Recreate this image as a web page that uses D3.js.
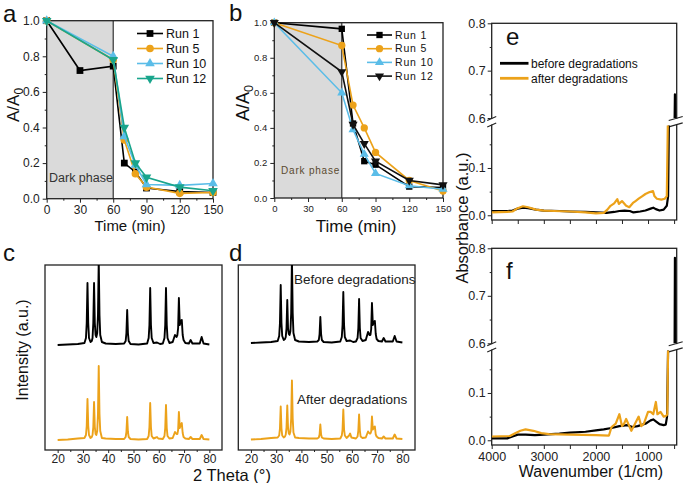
<!DOCTYPE html>
<html>
<head>
<meta charset="utf-8">
<script src="https://cdn.jsdelivr.net/npm/d3@7"></script>
<style>
  body { margin: 0; background: #fff; }
  svg { font-family: "Liberation Sans", Arial, sans-serif; }
</style>
</head>
<body>
<script>
// ---------- data: photocatalytic runs (A/A0 vs time) ----------
const timeA1 = [0, 30, 60, 70, 80, 90, 120, 150];
const timeRun = [0, 60, 70, 80, 90, 120, 150];
const aRun1 = [1.0, 0.72, 0.745, 0.20, 0.15, 0.06, 0.04, 0.035];
const aRun5 = [1.0, 0.78, 0.33, 0.14, 0.065, 0.03, 0.035];
const aRun10 = [1.0, 0.80, 0.35, 0.19, 0.08, 0.075, 0.085];
const aRun12 = [1.0, 0.78, 0.40, 0.20, 0.12, 0.065, 0.045];
const bRun1 = [1.0, 0.965, 0.425, 0.21, 0.19, 0.065, 0.06];
const bRun5 = [1.0, 0.87, 0.53, 0.40, 0.26, 0.10, 0.04];
const bRun10 = [1.0, 0.60, 0.39, 0.25, 0.14, 0.07, 0.05];
const bRun12 = [1.0, 0.72, 0.42, 0.31, 0.21, 0.10, 0.075];
const runNames = ["Run 1", "Run 5", "Run 10", "Run 12"];
const timeTicks = [0, 30, 60, 90, 120, 150];
const timeMinor = [15, 45, 75, 105, 135];
const ratioTicks = [0, 0.2, 0.4, 0.6, 0.8, 1.0];
const ratioMinor = [0.1, 0.3, 0.5, 0.7, 0.9];

// ---------- data: XRD patterns [2theta, intensity] ----------
const xrdBeforeC = [[20,0],[24,0.5],[28,1],[30.6,2],[31.2,7],[31.5,22],[31.8,62],[32.1,22],[32.4,7],[33.0,3],[33.5,4],[33.8,7],[34.1,22],[34.4,62],[34.7,22],[35.0,10],[35.3,8],[35.65,12],[35.95,30],[36.25,85],[36.55,30],[36.85,10],[37.5,3],[39,1.5],[43,1],[46.3,1.5],[46.9,4],[47.2,12],[47.5,35],[47.8,12],[48.1,4],[48.8,1],[52,0.5],[55.4,1.5],[56.0,7],[56.3,20],[56.6,57],[56.9,20],[57.2,7],[57.9,2],[59.3,2.5],[60.5,1],[61.6,1.5],[62.25,7],[62.55,20],[62.85,57],[63.15,20],[63.45,7],[64.2,2],[65.5,3],[66.4,10],[67.0,8],[67.35,10],[67.65,17],[67.95,47],[68.3,20],[68.7,24],[69.1,25],[69.45,10],[69.8,5],[70.5,2],[71.9,1.5],[72.6,5],[73.3,1.5],[76.2,1.5],[76.95,8],[77.7,1.5],[80,0.5]];
const xrdAfterC = [[20,0],[24,0.5],[28,1.5],[30.6,2],[31.2,5],[31.5,14],[31.8,41],[32.1,14],[32.4,5],[33.0,2],[33.5,3],[33.8,5],[34.1,13],[34.4,38],[34.7,13],[35.0,6],[35.3,5],[35.65,9],[35.95,26],[36.25,74],[36.55,26],[36.85,9],[37.5,2],[39,1.5],[43,1],[46.3,1],[46.9,3],[47.2,8],[47.5,23],[47.8,8],[48.1,3],[48.8,1],[52,0.5],[55.4,1],[56.0,4],[56.3,13],[56.6,37],[56.9,13],[57.2,4],[57.9,1.5],[58.9,2.5],[59.3,3],[59.8,1.5],[61.6,1],[62.25,4],[62.55,12],[62.85,35],[63.15,12],[63.45,4],[64.2,1.5],[65.5,2],[66.4,8],[67.0,6],[67.35,6],[67.65,10],[67.95,28],[68.3,12],[68.7,15],[69.1,17],[69.45,7],[69.8,3],[70.5,1.5],[71.9,1],[72.6,3],[73.3,1],[76.2,1],[76.95,5],[77.7,1],[80,0.5]];
const xrdBeforeD = [[20,0],[24,0.5],[28,1],[30.6,2],[31.2,7],[31.5,20],[31.8,58],[32.1,20],[32.4,7],[33.0,3],[33.5,4],[33.8,6],[34.1,15],[34.4,43],[34.7,15],[35.0,9],[35.3,8],[35.65,12],[35.95,30],[36.25,85],[36.55,30],[36.85,10],[37.5,3],[39,1.5],[43,1],[46.3,1.5],[46.9,3],[47.2,9],[47.5,26],[47.8,9],[48.1,3],[48.8,1],[52,0.5],[55.4,1.5],[56.0,6],[56.3,18],[56.6,51],[56.9,18],[57.2,6],[57.9,2],[59.3,2.5],[60.5,1],[61.6,1.5],[62.25,5],[62.55,15],[62.85,44],[63.15,15],[63.45,5],[64.2,2],[65.5,3],[66.4,11],[67.0,8],[67.35,8],[67.65,14],[67.95,40],[68.3,18],[68.7,21],[69.1,22],[69.45,9],[69.8,4],[70.5,2],[71.9,1.5],[72.6,5],[73.3,1.5],[76.2,1.5],[76.95,7],[77.7,1.5],[80,0.5]];
const xrdAfterD = [[20,0],[24,0.5],[28,1.5],[30.6,2],[31.2,4],[31.5,11],[31.8,33],[32.1,11],[32.4,4],[33.0,2],[33.5,3],[33.8,5],[34.1,12],[34.4,34],[34.7,12],[35.0,6],[35.3,5],[35.65,8],[35.95,21],[36.25,59],[36.55,21],[36.85,7],[37.5,2],[39,1.5],[43,1],[46.3,1],[46.9,2],[47.2,5],[47.5,15],[47.8,5],[48.1,2],[48.8,1],[52,0.5],[55.4,1],[56.0,4],[56.3,10],[56.6,30],[56.9,10],[57.2,4],[57.9,1.5],[58.9,4],[59.3,6],[59.8,2],[61.6,1],[62.25,3],[62.55,9],[62.85,25],[63.15,9],[63.45,3],[64.2,1.5],[65.5,2],[66.4,8],[67.0,6],[67.35,6],[67.65,8],[67.95,23],[68.3,10],[68.7,12],[69.1,13],[69.45,5],[69.8,3],[70.5,1.5],[71.9,1],[72.6,3],[73.3,1],[76.2,1],[76.95,5],[77.7,1],[80,0.5]];
const thetaTicks = [20, 30, 40, 50, 60, 70, 80];
const thetaMinor = [25, 35, 45, 55, 65, 75];

// ---------- data: FTIR spectra [wavenumber, absorbance] ----------
const irBeforeE = [[4000,0.009],[3700,0.009],[3600,0.01],[3500,0.014],[3400,0.016],[3300,0.015],[3150,0.012],[3000,0.01],[2700,0.009],[2500,0.008],[2200,0.007],[2000,0.006],[1800,0.005],[1650,0.007],[1550,0.009],[1450,0.01],[1350,0.009],[1280,0.006],[1150,0.008],[1050,0.01],[950,0.014],[900,0.016],[850,0.013],[780,0.01],[700,0.012],[640,0.02],[615,0.04],[600,0.3],[590,0.5],[490,0.5],[484,0.65],[478,0.5]];
const irAfterE = [[4000,0.006],[3700,0.007],[3600,0.008],[3500,0.015],[3400,0.019],[3300,0.017],[3150,0.012],[3000,0.01],[2800,0.009],[2500,0.008],[2200,0.006],[2000,0.004],[1850,0.005],[1780,0.012],[1720,0.02],[1650,0.025],[1590,0.034],[1560,0.024],[1500,0.03],[1420,0.02],[1360,0.017],[1290,0.026],[1240,0.03],[1180,0.035],[1115,0.04],[1050,0.045],[970,0.049],[905,0.051],[875,0.04],[830,0.035],[745,0.033],[680,0.035],[640,0.04],[620,0.3],[605,0.5],[450,0.5]];
const irBeforeF = [[4000,0.004],[3700,0.004],[3600,0.008],[3500,0.012],[3350,0.012],[3170,0.011],[3000,0.012],[2700,0.014],[2500,0.016],[2200,0.018],[2000,0.021],[1850,0.023],[1700,0.026],[1550,0.03],[1400,0.032],[1300,0.028],[1200,0.03],[1050,0.035],[950,0.042],[900,0.044],[850,0.04],[780,0.034],[700,0.032],[660,0.033],[635,0.05],[615,0.3],[595,0.5],[490,0.5],[484,0.78],[478,0.5]];
const irAfterF = [[4000,0.008],[3650,0.009],[3550,0.015],[3450,0.02],[3350,0.023],[3200,0.02],[3050,0.015],[2900,0.013],[2500,0.012],[2000,0.011],[1750,0.01],[1700,0.028],[1620,0.035],[1550,0.055],[1500,0.03],[1460,0.035],[1420,0.045],[1380,0.035],[1320,0.02],[1250,0.035],[1180,0.05],[1130,0.03],[1080,0.035],[1000,0.06],[950,0.06],[900,0.055],[850,0.081],[820,0.055],[760,0.06],[700,0.05],[650,0.052],[630,0.055],[615,0.3],[605,0.5],[450,0.5]];
const waveTicks = [4000, 3000, 2000, 1000];
const waveMinor = [3500, 2500, 1500, 500];
const absTicks = [0, 0.1, 0.6, 0.7, 0.8];
const absMinor = [0.05, 0.15, 0.65, 0.75];
const irNames = ["before degradations", "after degradations"];

const BLACK = "#000", ORANGE = "#eca21a", SKY = "#5bbde8", TEAL = "#19a58c";

const svg = d3.select("body").append("svg").attr("width", 685).attr("height", 483);

function styleAxis(sel, size) {
  sel.select(".domain").remove();
  sel.selectAll("line").attr("stroke", "#222").attr("stroke-width", 1);
  sel.selectAll("text").attr("font-size", size).attr("fill", "#222");
}

function addText(g, x, y, txt, size, opts) {
  opts = opts || {};
  return g.append("text").attr("x", x).attr("y", y).text(txt)
    .attr("font-size", size).attr("fill", opts.fill || "#111")
    .attr("text-anchor", opts.anchor || "start")
    .attr("letter-spacing", opts.spacing || 0);
}

function frame(g, x0, x1, y0, y1) {
  g.append("rect").attr("x", x0).attr("y", y0).attr("width", x1 - x0).attr("height", y1 - y0)
    .attr("fill", "none").attr("stroke", "#222").attr("stroke-width", 1.3);
}

// ---------- panels a, b ----------
function drawKinetics(p) {
  const g = svg.append("g");
  const x = d3.scaleLinear().domain([0, 150]).range(p.xr);
  const y = d3.scaleLinear().domain([0, 1]).range(p.yr);

  g.append("rect").attr("x", x(0)).attr("y", y(1)).attr("width", x(60) - x(0))
    .attr("height", y(0) - y(1)).attr("fill", "#dadada");
  g.append("line").attr("x1", x(60)).attr("x2", x(60)).attr("y1", y(0)).attr("y2", y(1))
    .attr("stroke", "#333").attr("stroke-width", 1.2);
  addText(g, p.dark[0], p.dark[1], "Dark phase", p.dark[2], { fill: p.dark[3], spacing: p.dark[4] });

  const xa = g.append("g").attr("transform", `translate(0,${y(0)})`)
    .call(d3.axisBottom(x).tickValues(timeTicks).tickSize(4).tickPadding(3));
  styleAxis(xa, p.tick);
  const xm = g.append("g").attr("transform", `translate(0,${y(0)})`)
    .call(d3.axisBottom(x).tickValues(timeMinor).tickSize(2).tickFormat(""));
  styleAxis(xm, p.tick);
  const ya = g.append("g").attr("transform", `translate(${x(0)},0)`)
    .call(d3.axisLeft(y).tickValues(ratioTicks).tickSize(4).tickPadding(3).tickFormat(d3.format(".1f")));
  styleAxis(ya, p.tick);
  const ym = g.append("g").attr("transform", `translate(${x(0)},0)`)
    .call(d3.axisLeft(y).tickValues(ratioMinor).tickSize(2).tickFormat(""));
  styleAxis(ym, p.tick);
  frame(g, p.xr[0], p.xr[1], p.yr[1], p.yr[0]);

  const line = d3.line().x(d => x(d[0])).y(d => y(d[1]));
  p.runs.forEach((r, i) => {
    const pts = r.t.map((t, k) => [t, r.v[k]]);
    g.append("path").datum(pts).attr("d", line).attr("fill", "none")
      .attr("stroke", r.color).attr("stroke-width", 1.6);
    g.selectAll(null).data(pts).join("path")
      .attr("transform", d => `translate(${x(d[0])},${y(d[1])}) rotate(${r.rot})`)
      .attr("d", d3.symbol(r.sym, r.size)).attr("fill", r.color);

    // legend
    const ly = p.leg.y0 + i * p.leg.dy;
    g.append("line").attr("x1", p.leg.x0).attr("x2", p.leg.x1).attr("y1", ly).attr("y2", ly)
      .attr("stroke", r.color).attr("stroke-width", 1.6);
    g.append("path").attr("transform", `translate(${(p.leg.x0 + p.leg.x1) / 2},${ly}) rotate(${r.rot})`)
      .attr("d", d3.symbol(r.sym, r.size)).attr("fill", r.color);
    addText(g, p.leg.x1 + 3, ly + p.leg.size * 0.36, runNames[i], p.leg.size, { spacing: p.leg.spacing });
  });

  addText(g, p.letter[0], p.letter[1], p.letter[2], 24);
  const yl = g.append("text").attr("transform", `translate(${p.ylab[0]},${p.ylab[1]}) rotate(-90)`)
    .attr("text-anchor", "middle").attr("font-size", p.ylab[2]).attr("fill", "#111");
  yl.append("tspan").text("A/A");
  yl.append("tspan").text("0").attr("font-size", p.ylab[2] * 0.7).attr("dy", 4);
  addText(g, p.xlab[0], p.xlab[1], "Time (min)", p.xlab[2], { anchor: "middle" });
}

drawKinetics({
  xr: [46.7, 213], yr: [198.7, 20.7], tick: 12,
  dark: [49, 182, 12.5, "#333", 0],
  runs: [
    { t: timeA1, v: aRun1, color: BLACK, sym: d3.symbolSquare, size: 46, rot: 0 },
    { t: timeRun, v: aRun5, color: ORANGE, sym: d3.symbolCircle, size: 46, rot: 0 },
    { t: timeRun, v: aRun10, color: SKY, sym: d3.symbolTriangle, size: 40, rot: 0 },
    { t: timeRun, v: aRun12, color: TEAL, sym: d3.symbolTriangle, size: 40, rot: 180 }
  ],
  leg: { x0: 137, x1: 163, y0: 33.5, dy: 15, size: 12.5, spacing: 0 },
  letter: [3, 22, "a"], ylab: [19, 105, 17], xlab: [130, 231, 15]
});

drawKinetics({
  xr: [274.3, 443], yr: [198, 22.7], tick: 9.5,
  dark: [281, 174, 10, "#5a4a30", 0.8],
  runs: [
    { t: timeRun, v: bRun1, color: BLACK, sym: d3.symbolSquare, size: 40, rot: 0 },
    { t: timeRun, v: bRun5, color: ORANGE, sym: d3.symbolCircle, size: 42, rot: 0 },
    { t: timeRun, v: bRun10, color: SKY, sym: d3.symbolTriangle, size: 36, rot: 0 },
    { t: timeRun, v: bRun12, color: "#111", sym: d3.symbolTriangle, size: 36, rot: 180 }
  ],
  leg: { x0: 367, x1: 392, y0: 35, dy: 13.7, size: 10.5, spacing: 0.8 },
  letter: [229, 21, "b"], ylab: [249, 103, 18], xlab: [356, 232, 17]
});

// ---------- panels c, d ----------
function drawXrd(p) {
  const g = svg.append("g");
  const x = d3.scaleLinear().domain([15, 85]).range(p.xr);
  const y = d3.scaleLinear().domain([0, 185]).range([450, 265]);
  const clipId = "clip" + p.letter[2];
  g.append("clipPath").attr("id", clipId).append("rect")
    .attr("x", p.xr[0]).attr("y", 265).attr("width", p.xr[1] - p.xr[0]).attr("height", 185);

  const xa = g.append("g").attr("transform", "translate(0,450)")
    .call(d3.axisBottom(x).tickValues(thetaTicks).tickSize(3).tickPadding(1.5));
  styleAxis(xa, 12);
  const xm = g.append("g").attr("transform", "translate(0,450)")
    .call(d3.axisBottom(x).tickValues(thetaMinor).tickSize(2).tickFormat(""));
  styleAxis(xm, 12);
  frame(g, p.xr[0], p.xr[1], 265, 450);

  p.series.forEach(s => {
    g.append("path").datum(s.data)
      .attr("d", d3.line().x(d => x(d[0])).y(d => y(d[1] + s.offset)))
      .attr("fill", "none").attr("stroke", s.color).attr("stroke-width", 1.9)
      .attr("stroke-linejoin", "round").attr("clip-path", `url(#${clipId})`);
  });
  addText(g, p.letter[0], p.letter[1], p.letter[2], 24);
}

drawXrd({
  xr: [45, 222], letter: [3, 261, "c"],
  series: [
    { data: xrdBeforeC, offset: 105, color: BLACK },
    { data: xrdAfterC, offset: 10, color: ORANGE }
  ]
});
drawXrd({
  xr: [238.3, 415], letter: [229, 261, "d"],
  series: [
    { data: xrdBeforeD, offset: 107, color: BLACK },
    { data: xrdAfterD, offset: 10.5, color: ORANGE }
  ]
});
addText(svg, 294, 284, "Before degradations", 13.5, { fill: "#222" });
addText(svg, 297, 404, "After degradations", 13.5, { fill: "#222" });
svg.append("text").attr("transform", "translate(28,350) rotate(-90)").attr("text-anchor", "middle")
  .attr("font-size", 16).attr("fill", "#111").text("Intensity (a.u.)");
addText(svg, 232, 480.5, "2 Theta (°)", 16.5, { anchor: "middle" });

// ---------- panels e, f ----------
function drawIr(p) {
  const g = svg.append("g");
  const x = d3.scaleLinear().domain([4000, 450]).range([491.7, 676.7]);
  const [yb, y01, y06, yt] = p.yr;
  const y = d3.scaleLinear().domain([-0.01, 0.19, 0.6, 0.8]).range([yb, y01, y06, yt]);
  const clipId = "clip" + p.letter[2];
  const cp = g.append("clipPath").attr("id", clipId);
  cp.append("rect").attr("x", 491.7).attr("y", yt).attr("width", 185).attr("height", y06 - yt);
  cp.append("rect").attr("x", 491.7).attr("y", y01).attr("width", 185).attr("height", yb - y01);

  const xa = g.append("g").attr("transform", `translate(0,${yb})`)
    .call(d3.axisBottom(x).tickValues(waveTicks).tickSize(4).tickPadding(3)
      .tickFormat(p.xLabels ? d3.format("d") : ""));
  styleAxis(xa, 12.5);
  const xm = g.append("g").attr("transform", `translate(0,${yb})`)
    .call(d3.axisBottom(x).tickValues(waveMinor).tickSize(4).tickFormat(""));
  styleAxis(xm, 12);
  const ya = g.append("g").attr("transform", "translate(491.7,0)")
    .call(d3.axisLeft(y).tickValues(absTicks).tickSize(4).tickPadding(2).tickFormat(d3.format(".1f")));
  styleAxis(ya, 12.5);
  const ym = g.append("g").attr("transform", "translate(491.7,0)")
    .call(d3.axisLeft(y).tickValues(absMinor).tickSize(2).tickFormat(""));
  styleAxis(ym, 12);
  frame(g, 491.7, 676.7, yt, yb);

  // axis break marks
  [[491.7, 4.5, 4.5], [676.7, 8, 6]].forEach(([ax, l, r]) => {
    g.append("rect").attr("x", ax - 2).attr("y", y06 + 0.8).attr("width", 4).attr("height", y01 - y06 - 1.6)
      .attr("fill", "#fff");
    [y06 + 0.5, y01 - 0.5].forEach(by => {
      g.append("line").attr("x1", ax - l).attr("y1", by + 2).attr("x2", ax + r).attr("y2", by - 2)
        .attr("stroke", "#222").attr("stroke-width", 1.1);
    });
  });

  p.series.forEach(s => {
    g.append("path").datum(s.data)
      .attr("d", d3.line().x(d => x(d[0])).y(d => y(d[1])))
      .attr("fill", "none").attr("stroke", s.color).attr("stroke-width", 2.2)
      .attr("stroke-linejoin", "round").attr("clip-path", `url(#${clipId})`);
  });
  addText(g, p.letter[0], p.letter[1], p.letter[2], 24);
}

drawIr({
  yr: [220, 125.4, 118, 23.3], letter: [506, 45, "e"], xLabels: false,
  series: [{ data: irBeforeE, color: BLACK }, { data: irAfterE, color: ORANGE }]
});
drawIr({
  yr: [445, 350.4, 343.3, 248.3], letter: [506, 279, "f"], xLabels: true,
  series: [{ data: irBeforeF, color: BLACK }, { data: irAfterF, color: ORANGE }]
});

[BLACK, ORANGE].forEach((c, i) => {
  const ly = 63.3 + i * 15;
  svg.append("line").attr("x1", 500).attr("x2", 528.5).attr("y1", ly).attr("y2", ly)
    .attr("stroke", c).attr("stroke-width", 2.8);
  addText(svg, 531, ly + 4.3, irNames[i], 12, { fill: "#111" });
});
svg.append("text").attr("transform", "translate(468,218) rotate(-90)").attr("text-anchor", "middle")
  .attr("font-size", 16.5).attr("fill", "#111").text("Absorbance (a.u.)");
addText(svg, 591, 477, "Wavenumber (1/cm)", 16, { anchor: "middle" });
</script>
</body>
</html>
